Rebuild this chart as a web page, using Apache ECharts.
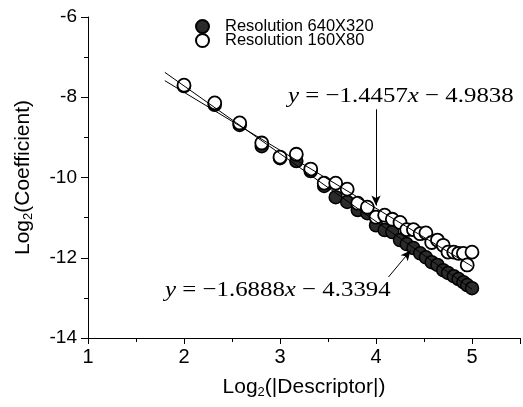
<!DOCTYPE html>
<html><head><meta charset="utf-8">
<script src="https://cdn.jsdelivr.net/npm/echarts@6/dist/echarts.min.js"></script>
<style>html,body{margin:0;padding:0;background:#fff}#c{width:523px;height:407px}</style>
</head><body><div id="c"></div>
<script>
const xValues = [2, 2.32, 2.58, 2.81, 3, 3.17, 3.32, 3.46, 3.58, 3.70, 3.81, 3.91, 4, 4.09, 4.17, 4.25, 4.32, 4.39, 4.46, 4.52, 4.58, 4.64, 4.70, 4.75, 4.81, 4.86, 4.91, 4.95, 5];
const highRes = [-7.72, -8.19, -8.69, -9.22, -9.52, -9.59, -9.84, -10.21, -10.49, -10.61, -10.81, -10.89, -11.19, -11.31, -11.36, -11.56, -11.66, -11.76, -11.89, -11.99, -12.11, -12.18, -12.31, -12.38, -12.46, -12.53, -12.61, -12.68, -12.76];
const lowRes = [-7.70, -8.14, -8.64, -9.14, -9.49, -9.42, -9.79, -10.14, -10.14, -10.29, -10.64, -10.74, -10.99, -10.94, -11.04, -11.12, -11.30, -11.30, -11.40, -11.38, -11.62, -11.56, -11.69, -11.86, -11.86, -11.89, -11.89, -12.18, -11.86];
const seriesNames = ['Resolution 640X320', 'Resolution 160X80'];
const fitHigh = {slope: -1.6888, intercept: -4.3394};
const fitLow = {slope: -1.4457, intercept: -4.9838};
const fitRange = [1.8, 5];
const xTicks = [1, 2, 3, 4, 5];
const yTicks = [-14, -12, -10, -8, -6];

const fitPts = f => fitRange.map(x => [x, f.slope * x + f.intercept]);
const pair = ys => xValues.map((x, i) => [x, ys[i]]);
const eqStyle = (txt) => ({
  text: txt, fontFamily: 'Liberation Serif', fontSize: 22, fill: '#000',
  rich: {i: {fontFamily: 'Liberation Serif', fontStyle: 'italic', fontSize: 22, fill: '#000'}}
});

const chart = echarts.init(document.getElementById('c'));
chart.setOption({
  animation: false,
  grid: {left: 88, top: 17, right: -1, bottom: 69, containLabel: false},
  legend: {
    data: seriesNames, orient: 'vertical', left: 195, top: 18, itemGap: -3,
    itemWidth: 13, itemHeight: 13, padding: 0,
    textStyle: {fontFamily: 'Liberation Sans', fontSize: 16.5, color: '#000', padding: [0, 0, 0, 11]}
  },
  xAxis: {
    type: 'value', min: xTicks[0], max: 5.5, interval: 1,
    axisLine: {onZero: false, lineStyle: {color: '#000', width: 1}},
    axisTick: {length: 6, lineStyle: {color: '#000'}},
    minorTick: {show: true, splitNumber: 2, length: 4, lineStyle: {color: '#000'}},
    splitLine: {show: false},
    axisLabel: {fontFamily: 'Liberation Sans', fontSize: 20, color: '#000', margin: 9,
      formatter: v => xTicks.includes(v) ? String(v) : ''},
    name: 'Log{s|2}(|Descriptor|)', nameLocation: 'middle', nameGap: 38,
    nameTextStyle: {fontFamily: 'Liberation Sans', fontSize: 21, color: '#000',
      rich: {s: {fontFamily: 'Liberation Sans', fontSize: 13, color: '#000', verticalAlign: 'bottom', padding: [10, 0, 0, 0]}}}
  },
  yAxis: {
    type: 'value', min: yTicks[0], max: yTicks[yTicks.length - 1], interval: 2,
    axisLine: {show: true, onZero: false, lineStyle: {color: '#000', width: 1}},
    axisTick: {show: true, length: 7, lineStyle: {color: '#000'}},
    minorTick: {show: true, splitNumber: 2, length: 4, lineStyle: {color: '#000'}},
    splitLine: {show: false},
    axisLabel: {fontFamily: 'Liberation Sans', fontSize: 19, color: '#000', margin: 11},
    name: 'Log{s|2}(Coefficient)', nameLocation: 'middle', nameGap: 53,
    nameTextStyle: {fontFamily: 'Liberation Sans', fontSize: 21, color: '#000',
      rich: {s: {fontFamily: 'Liberation Sans', fontSize: 13, color: '#000', verticalAlign: 'bottom', padding: [10, 0, 0, 0]}}}
  },
  series: [
    {name: seriesNames[0], type: 'scatter', data: pair(highRes), symbol: 'circle', symbolSize: 13,
      itemStyle: {color: '#2b2b2b', borderColor: '#000', borderWidth: 1.5, opacity: 1}, z: 2},
    {name: seriesNames[1], type: 'scatter', data: pair(lowRes), symbol: 'circle', symbolSize: 13,
      itemStyle: {color: '#fff', borderColor: '#000', borderWidth: 1.8, opacity: 1}, z: 3},
    {name: 'fitLow', type: 'line', data: fitPts(fitLow), symbol: 'none', lineStyle: {color: '#000', width: 1}, z: 4,
      markLine: {silent: true, symbol: ['none', 'arrow'], symbolSize: [7, 10], label: {show: false},
        lineStyle: {color: '#000', width: 1, type: 'solid'},
        data: [[{coord: [4.0, -8.3]}, {coord: [4.0, -10.7]}]]}},
    {name: 'fitHigh', type: 'line', data: fitPts(fitHigh), symbol: 'none', lineStyle: {color: '#000', width: 1}, z: 4,
      markLine: {silent: true, symbol: ['none', 'arrow'], symbolSize: [7, 10], label: {show: false},
        lineStyle: {color: '#000', width: 1, type: 'solid'},
        data: [[{coord: [4.13, -12.48]}, {coord: [4.36, -11.82]}]]}}
  ],
  graphic: [
    {type: 'text', x: 288, y: 85, scaleX: 1.13, z: 10, style: eqStyle('{i|y} = −1.4457{i|x} − 4.9838')},
    {type: 'text', x: 165, y: 279, scaleX: 1.13, z: 10, style: eqStyle('{i|y} = −1.6888{i|x} − 4.3394')}
  ]
});
</script></body></html>
